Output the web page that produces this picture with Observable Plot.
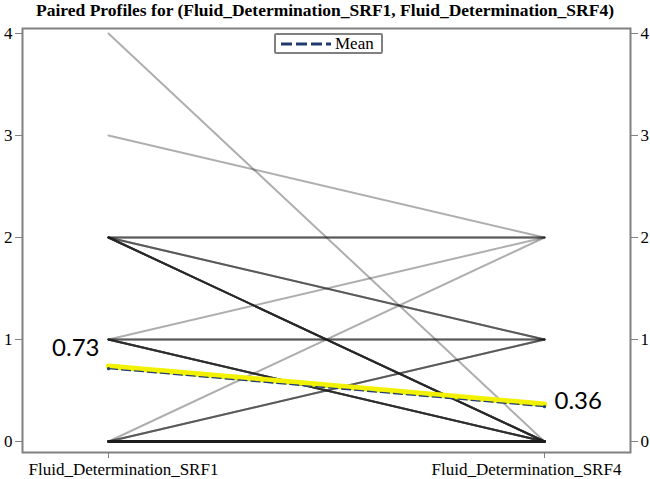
<!DOCTYPE html>
<html>
<head>
<meta charset="utf-8">
<script src="https://cdn.jsdelivr.net/npm/d3@7"></script>
<script src="https://cdn.jsdelivr.net/npm/@observablehq/plot@0.6"></script>
<style>
  body { margin: 0; background: #fff; }
  #wrap { position: relative; width: 650px; height: 479px; overflow: hidden; }
  #title { height: 22px; line-height: 26px; text-align: center; font: bold 17.5px "Liberation Serif", serif; color: #000; white-space: nowrap; overflow: visible; }
  #legend { position: absolute; left: 274px; top: 33px; width: 105px; height: 17px; border: 2px solid #808080; border-radius: 2px; background: #fff; display: flex; align-items: center; font: 17px "Liberation Serif", serif; }
</style>
</head>
<body>
<div id="wrap">
  <div id="title">Paired Profiles for (Fluid_Determination_SRF1, Fluid_Determination_SRF4)</div>
  <div id="chart"></div>
  <div id="legend">
    <svg width="56" height="17" style="margin-left:3px"><line x1="2" y1="9" x2="52" y2="9" stroke="#1f3a6e" stroke-width="3" stroke-dasharray="11,4"/></svg>
    <span>Mean</span>
  </div>
</div>
<script>
const categories = ["Fluid_Determination_SRF1", "Fluid_Determination_SRF4"];
// distinct paired profiles (SRF1 value -> SRF4 value) and number of subjects on each
const profileFrom  = [4, 3, 2, 2, 2, 1, 1, 1, 0, 0, 0];
const profileTo    = [0, 2, 2, 1, 0, 2, 1, 0, 2, 1, 0];
const profileCount = [1, 1, 3, 3, 7, 1, 3, 6, 1, 3, 30];
const yTicks = [0, 1, 2, 3, 4];

const long = [];
let id = 0;
profileFrom.forEach((f, i) => {
  for (let k = 0; k < profileCount[i]; k++) {
    long.push({id, time: categories[0], value: f});
    long.push({id, time: categories[1], value: profileTo[i]});
    id++;
  }
});
const meanRows = categories.map(c => ({time: c, value: d3.mean(long.filter(d => d.time === c), d => d.value)}));

const chart = Plot.plot({
  width: 650, height: 457,
  marginTop: 6, marginBottom: 27, marginLeft: 22, marginRight: 20,
  x: {type: "point", domain: categories, padding: 0.197, axis: null},
  y: {domain: [-0.108, 4.049], axis: null},
  style: {fontFamily: "Liberation Serif, serif", fontSize: "17px", color: "#000", background: "white"},
  marks: [
    Plot.lineY(long, {x: "time", y: "value", z: "id", stroke: "#1e1e1e", strokeOpacity: 0.36, strokeWidth: 2}),
    Plot.lineY(meanRows, {x: "time", y: "value", stroke: "#f2f200", strokeWidth: 5.5, dy: -1}),
    Plot.lineY(meanRows, {x: "time", y: "value", stroke: "#1f3d7a", strokeWidth: 1.3, strokeDasharray: "9,4", dy: 1.5}),
    Plot.dot(meanRows, {x: "time", y: "value", r: 1.6, fill: "#1f3d7a", dy: 1.5}),
    Plot.text([meanRows[0]], {x: "time", y: "value", text: d => d.value.toFixed(2), textAnchor: "end", dx: -9, dy: -19, fontFamily: "Lato, sans-serif", fontSize: 24, fill: "#000"}),
    Plot.text([meanRows[1]], {x: "time", y: "value", text: d => d.value.toFixed(2), textAnchor: "start", dx: 10, dy: -4, fontFamily: "Lato, sans-serif", fontSize: 24, fill: "#000"}),
    Plot.frame({stroke: "#808080", strokeWidth: 2}),
    Plot.axisY({anchor: "left", label: null, ticks: yTicks, tickFormat: "d", tickSize: 7, tickPadding: 3, stroke: "#808080", fill: "#000"}),
    Plot.axisY({anchor: "right", label: null, ticks: yTicks, tickFormat: "d", tickSize: 7, tickPadding: 3, stroke: "#808080", fill: "#000"}),
    Plot.axisX({label: null, ticks: categories, tickSize: 6, tickFormat: () => "", stroke: "#808080"}),
    Plot.axisX({label: null, ticks: [categories[0]], tickSize: 0, tickPadding: 10, dx: 15, fill: "#000"}),
    Plot.axisX({label: null, ticks: [categories[1]], tickSize: 0, tickPadding: 10, dx: -18, fill: "#000"})
  ]
});
document.getElementById("chart").appendChild(chart);
</script>
</body>
</html>
